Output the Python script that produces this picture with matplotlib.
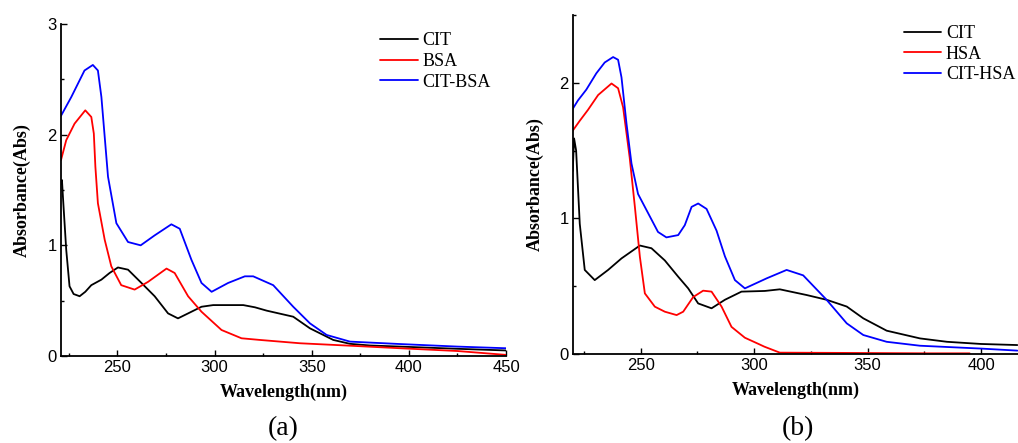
import numpy as np
import matplotlib
matplotlib.use('Agg')
import matplotlib.pyplot as plt
from matplotlib.ticker import MultipleLocator

# ---- painel (a): CIT / BSA / CIT-BSA ----
wl_cit_a = [220.8, 221.5, 222, 223.7, 225.4, 227.5, 230.6, 233.5, 236.6, 241.8, 246, 250.3,
            255.5, 262.4, 269.2, 276.1, 281.2, 286.4, 293.3, 299.3, 307, 314.8, 320.8, 326.8,
            340.5, 349.1, 361.1, 369.7, 380, 395.5, 425, 450]
abs_cit_a = [1.55, 1.59, 1.44, 0.96, 0.63, 0.56, 0.54, 0.58, 0.64, 0.69, 0.75, 0.80,
             0.78, 0.66, 0.54, 0.385, 0.34, 0.385, 0.445, 0.46, 0.46, 0.46, 0.44, 0.41,
             0.355, 0.25, 0.145, 0.11, 0.095, 0.085, 0.065, 0.05]

wl_bsa = [221, 223.7, 228, 233.5, 236.6, 237.9, 238.7, 240, 243.5, 246.9, 252, 258.9, 265.8,
          275.3, 279.5, 286.4, 293.3, 303.6, 313.9, 323.4, 344, 369.7, 395.5, 425, 450]
abs_bsa = [1.77, 1.95, 2.10, 2.22, 2.16, 2.01, 1.71, 1.38, 1.05, 0.81, 0.64, 0.60, 0.67,
           0.79, 0.75, 0.54, 0.40, 0.235, 0.16, 0.145, 0.115, 0.093, 0.07, 0.045, 0.01]

wl_citbsa = [221, 226.3, 233.1, 237.4, 240, 241.8, 243.5, 245.2, 249.5, 255.5, 262, 269.2,
             277.8, 282.1, 288.1, 293.3, 298.5, 307, 315.6, 319.9, 330.2, 340.5, 349.1,
             357.7, 369.7, 395.5, 425, 450]
abs_citbsa = [2.17, 2.34, 2.58, 2.63, 2.58, 2.34, 1.98, 1.62, 1.20, 1.03, 1.0, 1.09,
              1.19, 1.15, 0.87, 0.66, 0.58, 0.66, 0.72, 0.72, 0.64, 0.445, 0.295,
              0.19, 0.13, 0.108, 0.085, 0.07]

# ---- painel (b): CIT / HSA / CIT-HSA ----
wl_cit_b = [220, 220.6, 221.5, 223.1, 225.3, 229.7, 235.6, 241.5, 249.6, 254.7, 260.6, 266.5,
            270.9, 275.3, 281.2, 287.1, 294.4, 304.7, 311.3, 323.1, 331.9, 340.8, 348.1,
            358.4, 373.1, 385, 400, 416]
abs_cit_b = [1.35, 1.59, 1.50, 0.96, 0.62, 0.545, 0.62, 0.705, 0.80, 0.78, 0.69, 0.57,
             0.484, 0.373, 0.337, 0.40, 0.46, 0.465, 0.477, 0.435, 0.40, 0.35, 0.263,
             0.172, 0.115, 0.09, 0.074, 0.066]

wl_hsa = [219.7, 223.1, 226.7, 231.2, 237.1, 240, 242.2, 245.1, 247.4, 249.6, 251.8, 256.2,
          260.6, 265.8, 268.7, 273.1, 277.5, 281.2, 285.6, 290, 295.9, 301.8, 304.5, 311.3,
          340, 376, 395]
abs_hsa = [1.64, 1.72, 1.80, 1.91, 1.995, 1.96, 1.82, 1.45, 1.085, 0.717, 0.447, 0.349,
           0.312, 0.287, 0.312, 0.42, 0.467, 0.46, 0.35, 0.20, 0.12, 0.075, 0.054, 0.01,
           0.008, 0.005, 0.005]

wl_cithsa = [219.7, 222.3, 226, 230.4, 234.1, 237.8, 240, 241.5, 243.7, 245.9, 248.8, 253.2,
             257.6, 261.3, 266.5, 269.4, 272.4, 275.3, 279, 283.4, 287.1, 291.5, 295.9,
             305.5, 314.3, 321.6, 331.9, 340.8, 348.1, 358.4, 373.1, 400, 416]
abs_cithsa = [1.80, 1.87, 1.95, 2.07, 2.15, 2.19, 2.17, 2.04, 1.70, 1.405, 1.18, 1.04,
              0.90, 0.86, 0.877, 0.95, 1.085, 1.11, 1.07, 0.91, 0.72, 0.545, 0.484,
              0.558, 0.62, 0.58, 0.40, 0.226, 0.14, 0.09, 0.061, 0.04, 0.025]

plt.rcParams['font.family'] = ['Liberation Sans', 'DejaVu Sans']
SERIF = 'Liberation Serif'

fig = plt.figure(figsize=(10.18, 4.43), dpi=100)
ax_a = fig.add_axes([0.0599, 0.1964, 0.4372, 0.7494])
ax_b = fig.add_axes([0.5626, 0.2009, 0.4374, 0.7652])


def estilo(ax, xlim, ylim, pad_y):
    ax.set_xlim(*xlim)
    ax.set_ylim(*ylim)
    for lado in ['top', 'right']:
        ax.spines[lado].set_visible(False)
    for lado in ['left', 'bottom']:
        ax.spines[lado].set_linewidth(1.3)
    ax.xaxis.set_major_locator(MultipleLocator(50))
    ax.xaxis.set_minor_locator(MultipleLocator(25))
    ax.yaxis.set_major_locator(MultipleLocator(1))
    ax.yaxis.set_minor_locator(MultipleLocator(0.5))
    ax.tick_params(which='major', direction='in', length=4, width=1, labelsize=12, pad=3)
    ax.tick_params(which='minor', direction='in', length=2, width=1)
    ax.set_xlabel('Wavelength(nm)', family=SERIF, fontweight='bold', fontsize=13, labelpad=6)
    ax.set_ylabel('Absorbance(Abs)', family=SERIF, fontweight='bold', fontsize=13,
                  labelpad=pad_y)


opts = dict(lw=1.3, solid_joinstyle='round', solid_capstyle='round')

ax_a.plot(wl_cit_a, abs_cit_a, color='black', label='CIT', **opts)
ax_a.plot(wl_bsa, abs_bsa, color='red', label='BSA', **opts)
ax_a.plot(wl_citbsa, abs_citbsa, color='blue', label='CIT-BSA', **opts)
estilo(ax_a, (221, 450), (0, 3), 12)

ax_b.plot(wl_cit_b, abs_cit_b, color='black', label='CIT', **opts)
ax_b.plot(wl_hsa, abs_hsa, color='red', label='HSA', **opts)
ax_b.plot(wl_cithsa, abs_cithsa, color='blue', label='CIT-HSA', **opts)
estilo(ax_b, (220, 416.3), (0, 2.5), 11)

for ax, anc in [(ax_a, (0.716, 0.975)), (ax_b, (0.743, 0.97))]:
    ax.legend(loc='upper left', bbox_to_anchor=anc, frameon=False,
              prop={'family': SERIF, 'size': 13}, handlelength=2.1,
              handletextpad=0.25, labelspacing=0.2, borderaxespad=0, borderpad=0)

fig.text(0.278, 0.004, '(a)', family=SERIF, fontsize=20, ha='center', va='bottom')
fig.text(0.784, 0.004, '(b)', family=SERIF, fontsize=20, ha='center', va='bottom')

fig.savefig('out.png', dpi=100)
